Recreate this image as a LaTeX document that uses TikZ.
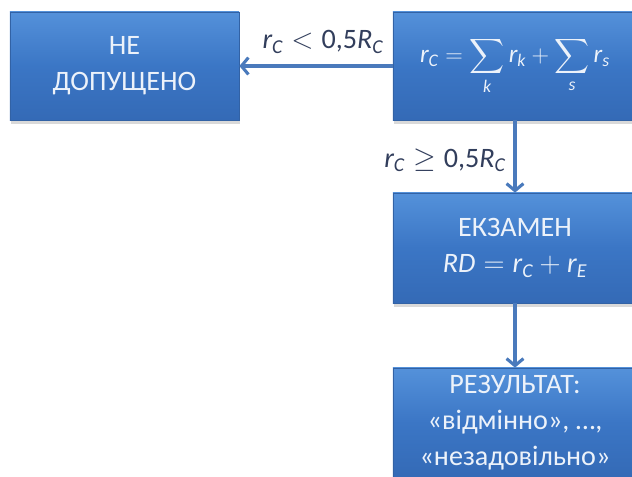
\documentclass[tikz,border=0pt]{standalone}
\usepackage{amsmath}
\usepackage{fontspec}
\setmainfont{Carlito}
\usepackage{tikz}
\usetikzlibrary{arrows.meta}
\usetikzlibrary{shadows}

\definecolor{boxblue}{RGB}{59,118,197}
\definecolor{boxtop}{RGB}{84,145,218}
\definecolor{boxbot}{RGB}{52,106,182}
\definecolor{boxline}{RGB}{50,98,165}
\definecolor{arrblue}{RGB}{74,122,188}
\definecolor{labtext}{RGB}{50,62,92}
\definecolor{boxtext}{RGB}{236,242,250}

\newcommand{\vi}[1]{\text{\itshape #1}}

\tikzset{
  blk/.style={rectangle, draw=boxline, line width=0.5pt,
    top color=boxtop, bottom color=boxbot, middle color=boxblue,
    text=boxtext, align=center, inner sep=2pt,
    font=\fontsize{20}{25.5}\selectfont,
    drop shadow={shadow xshift=1pt, shadow yshift=-2.5pt, opacity=0.3}},
  arr/.style={draw=arrblue, line width=2.2pt,
    -{Straight Barb[length=5pt, width=12pt, line width=2.2pt]}},
  lab/.style={text=labtext, font=\fontsize{20}{24}\selectfont, inner sep=0pt}
}

\begin{document}
\begin{tikzpicture}[x=0.025cm, y=-0.025cm]
\useasboundingbox (0,0) rectangle (632,476);
\clip (0,0) rectangle (632,476);
\node[blk, minimum width=5.725cm, minimum height=2.7cm] (A) at (124.5,66) {НЕ\\ДОПУЩЕНО};
\node[blk, minimum width=6.1cm, minimum height=2.7cm, font=\fontsize{18}{22}\selectfont] (B) at (515,66)
  {$\vi{r}_{\vi{C}} = \displaystyle\sum_{\vi{k}} \vi{r}_{\vi{k}} + \sum_{\vi{s}} \vi{r}_{\vi{s}}$};
\node[blk, minimum width=6.1cm, minimum height=2.75cm] (C) at (515,248)
  {ЕКЗАМЕН\\$\vi{RD} = \vi{r}_{\vi{C}} + \vi{r}_{\vi{E}}$};
\node[blk, minimum width=6.1cm, minimum height=2.75cm] (D) at (515,423)
  {РЕЗУЛЬТАТ:\\«відмінно», \dots,\\«незадовільно»};
\draw [arr] (B) -- (A);
\draw [arr] (B) -- (C);
\draw [arr] (C) -- (D);
\node[lab] (L1) at (323,42) {$\vi{r}_{\vi{C}} < \text{0,5}\vi{R}_{\vi{C}}$};
\node[lab] (L2) at (445,160) {$\vi{r}_{\vi{C}} \geq \text{0,5}\vi{R}_{\vi{C}}$};
\end{tikzpicture}
\end{document}
